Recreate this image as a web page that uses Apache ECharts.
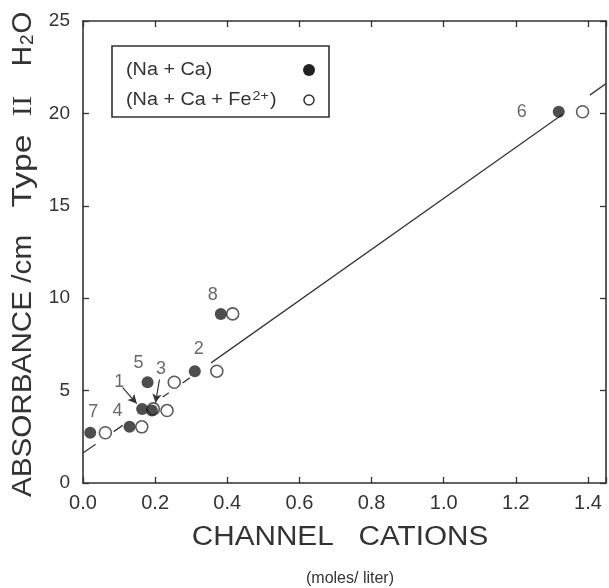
<!DOCTYPE html>
<html>
<head>
<meta charset="utf-8">
<script src="https://cdn.jsdelivr.net/npm/echarts@6/dist/echarts.min.js"></script>
<style>
  html, body { margin: 0; padding: 0; background: #fff; }
  #chart { width: 609px; height: 588px; }
</style>
</head>
<body>
<div id="chart"></div>
<script>
// sample numbers, in the order below
const sampleIds = ['7', '4', '1', '3', '5', '2', '8', '6']
// channel cations (moles/liter)
const naCa = [0.020, 0.129, 0.164, 0.191, 0.179, 0.310, 0.382, 1.319]
const naCaFe = [0.062, 0.163, 0.195, 0.233, 0.253, 0.371, 0.415, 1.385]
// absorbance/cm, type II H2O
const absorbance = [2.72, 3.04, 4.01, 3.92, 5.45, 6.05, 9.15, 20.09]

// fit line, drawn in pieces (broken round the points)
const fitSegments = [
  [[0.000, 1.62], [0.035, 2.10]],
  [[0.085, 2.78], [0.110, 3.12]],
  [[0.221, 4.65], [0.238, 4.88]],
  [[0.276, 5.41], [0.296, 5.69]],
  [[0.355, 6.50], [1.330, 19.95]],
  [[1.405, 20.99], [1.450, 21.61]]
]

// pointer arrows for samples 1 and 3
const arrows = [
  [[0.110, 5.16], [0.149, 4.30]],
  [[0.212, 5.60], [0.201, 4.34]]
]

const xTicks = [0, 0.2, 0.4, 0.6, 0.8, 1.0, 1.2, 1.4]
const yTicks = [0, 5, 10, 15, 20, 25]

// label placement relative to the filled dot (style only)
const labelOffsets = {
  '7': [3, -21], '4': [-12, -16], '1': [-23, -27], '3': [9, -42],
  '5': [-9, -19], '2': [4, -22], '8': [-8, -19], '6': [-37, 0]
}

const ink = '#333'
const font = 'Liberation Sans'

const chart = echarts.init(document.getElementById('chart'))

const lineData = []
fitSegments.forEach((seg, i) => {
  if (i > 0) lineData.push([seg[0][0], '-'])
  lineData.push(seg[0], seg[1])
})

const filled = naCa.map((x, i) => ({
  value: [x, absorbance[i]],
  label: {
    show: true,
    formatter: sampleIds[i],
    position: 'inside',
    offset: labelOffsets[sampleIds[i]],
    color: '#444',
    fontFamily: font,
    fontSize: 18
  }
}))
const open = naCaFe.map((x, i) => [x, absorbance[i]])

function tickLabel(v, list) {
  return list.some((t) => Math.abs(t - v) < 1e-6) ? v : ''
}

function makeAxis(extra) {
  return Object.assign({
    type: 'value',
    axisLine: { show: true, onZero: false, lineStyle: { color: ink, width: 1.6 } },
    axisTick: { show: true, inside: true, length: 6, lineStyle: { color: ink, width: 1.3 } },
    splitLine: { show: false }
  }, extra)
}

chart.setOption({
  backgroundColor: '#fff',
  animation: false,
  grid: { left: 83, right: 2, top: 21, bottom: 105 },
  xAxis: [
    makeAxis({
      min: 0,
      max: 1.45,
      interval: 0.2,
      axisLabel: {
        color: ink,
        fontFamily: font,
        fontSize: 20,
        margin: 10,
        formatter: (v) => {
          const t = tickLabel(v, xTicks)
          return t === '' ? '' : t.toFixed(1)
        }
      }
    }),
    makeAxis({
      position: 'top',
      min: 0,
      max: 1.45,
      interval: 0.2,
      axisLabel: { show: false }
    })
  ],
  yAxis: [
    makeAxis({
      min: 0,
      max: 25,
      interval: 5,
      axisLabel: {
        color: ink,
        fontFamily: font,
        fontSize: 19,
        margin: 13,
        formatter: (v) => tickLabel(v, yTicks)
      }
    }),
    makeAxis({
      position: 'right',
      min: 0,
      max: 25,
      interval: 5,
      axisLabel: { show: false }
    })
  ],
  series: [
    {
      name: 'fit',
      type: 'line',
      data: lineData,
      showSymbol: false,
      connectNulls: false,
      lineStyle: { color: '#3a3a3a', width: 1.3 },
      z: 1,
      markLine: {
        silent: true,
        symbol: ['none', 'arrow'],
        symbolSize: [7, 9],
        label: { show: false },
        lineStyle: { color: ink, width: 1.2, type: 'solid' },
        data: arrows.map((a) => [{ coord: a[0] }, { coord: a[1] }])
      }
    },
    {
      name: '(Na+Ca+Fe2+)',
      type: 'scatter',
      data: open,
      symbol: 'circle',
      symbolSize: 12,
      itemStyle: { color: '#fff', borderColor: '#333', borderWidth: 1.6 },
      z: 2
    },
    {
      name: '(Na+Ca)',
      type: 'scatter',
      data: filled,
      symbol: 'circle',
      symbolSize: 12,
      itemStyle: { color: '#222' },
      z: 3
    }
  ],
  graphic: [
    // legend box
    {
      type: 'rect',
      shape: { x: 112, y: 46, width: 217, height: 71 },
      style: { fill: '#fff', stroke: ink, lineWidth: 1.6 },
      z: 10
    },
    {
      type: 'text',
      x: 126, y: 70, scaleX: 1.1,
      style: {
        text: '(Na + Ca)',
        fill: ink, font: '18px "' + font + '"',
        textVerticalAlign: 'middle'
      },
      z: 11
    },
    {
      type: 'text',
      x: 126, y: 100, scaleX: 1.1,
      style: {
        text: '{a|(Na + Ca + Fe}{s|2+}{a|)}',
        fill: ink,
        textVerticalAlign: 'middle',
        rich: {
          a: { fontSize: 18, fontFamily: font, color: ink },
          s: { fontSize: 13, fontFamily: font, color: ink, verticalAlign: 'top', padding: [0, 1, 8, 1] }
        }
      },
      z: 11
    },
    {
      type: 'circle',
      shape: { cx: 309, cy: 70, r: 6 },
      style: { fill: '#222' },
      z: 11
    },
    {
      type: 'circle',
      shape: { cx: 309, cy: 100, r: 5 },
      style: { fill: '#fff', stroke: '#333', lineWidth: 1.5 },
      z: 11
    },
    // y axis title, read bottom to top
    {
      type: 'text',
      x: 23, y: 366, rotation: Math.PI / 2, scaleX: 1.06,
      style: {
        text: 'ABSORBANCE /cm',
        fill: ink, font: '28px "' + font + '"',
        textAlign: 'center', textVerticalAlign: 'middle'
      }
    },
    {
      type: 'text',
      x: 23, y: 171, rotation: Math.PI / 2, scaleX: 1.2,
      style: {
        text: 'Type',
        fill: ink, font: '28px "' + font + '"',
        textAlign: 'center', textVerticalAlign: 'middle'
      }
    },
    {
      type: 'text',
      x: 24, y: 106, rotation: Math.PI / 2, scaleX: 1.1,
      style: {
        text: 'II',
        fill: ink, font: '28px "Liberation Serif"',
        textAlign: 'center', textVerticalAlign: 'middle'
      }
    },
    {
      type: 'text',
      x: 23, y: 39, rotation: Math.PI / 2,
      style: {
        text: '{a|H}{s|2}{a|O}',
        fill: ink,
        textAlign: 'center', textVerticalAlign: 'middle',
        rich: {
          a: { fontSize: 28, fontFamily: font, color: ink },
          s: { fontSize: 19, fontFamily: font, color: ink, verticalAlign: 'bottom', padding: [9, 1, 0, 1] }
        }
      }
    },
    // x axis title
    {
      type: 'text',
      x: 340, y: 538, scaleX: 1.1,
      style: {
        text: 'CHANNEL   CATIONS',
        fill: ink, font: '27px "' + font + '"',
        textAlign: 'center', textVerticalAlign: 'middle'
      }
    },
    {
      type: 'text',
      x: 350, y: 579,
      style: {
        text: '(moles/ liter)',
        fill: ink, font: '16px "' + font + '"',
        textAlign: 'center', textVerticalAlign: 'middle'
      }
    }
  ]
})
</script>
</body>
</html>
